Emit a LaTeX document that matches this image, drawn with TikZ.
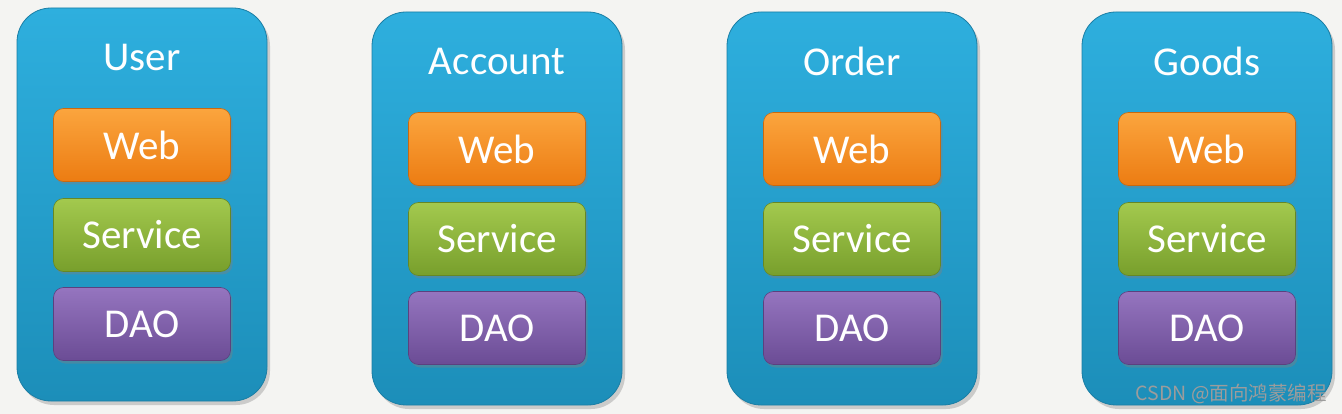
\documentclass[tikz,border=0pt]{standalone}
\usepackage{fontspec}
\setmainfont{Carlito}
\newfontfamily\cjkfont{Noto Sans CJK SC}
\usetikzlibrary{shadows}
\definecolor{bg}{HTML}{F4F4F2}
\definecolor{bluetop}{HTML}{2EAFDE}
\definecolor{bluebot}{HTML}{1C8EB9}
\definecolor{blueedge}{HTML}{1A7EA5}
\definecolor{ortop}{HTML}{FBA53E}
\definecolor{orbot}{HTML}{EC7C12}
\definecolor{grtop}{HTML}{A3C94E}
\definecolor{grbot}{HTML}{789F2C}
\definecolor{putop}{HTML}{9575BF}
\definecolor{pubot}{HTML}{6B4C95}
\definecolor{wm}{HTML}{9C9C9C}
\tikzset{
  outerbox/.style={rounded corners=34pt, minimum width=250pt, minimum height=393pt,
    top color=bluetop, bottom color=bluebot, draw=blueedge, line width=0.8pt,
    drop shadow={opacity=0.35, shadow xshift=3pt, shadow yshift=-4pt}},
  layerbox/.style={rounded corners=10pt, minimum width=177pt, minimum height=73pt,
    line width=0.6pt, text=white, font=\fontsize{41}{45}\selectfont,
    drop shadow={opacity=0.4, shadow xshift=2pt, shadow yshift=-3pt}},
  webbox/.style={layerbox, top color=ortop, bottom color=orbot, draw=orbot!85!black},
  servbox/.style={layerbox, top color=grtop, bottom color=grbot, draw=grbot!85!black},
  daobox/.style={layerbox, top color=putop, bottom color=pubot, draw=pubot!85!black},
  titletext/.style={text=white, font=\fontsize{41}{45}\selectfont, inner sep=0pt},
}
\begin{document}
\begin{tikzpicture}[x=1pt, y=-1pt]
\fill[bg] (0,0) rectangle (1342,414);
\useasboundingbox (0,0) rectangle (1342,414);
\foreach \n/\cx/\t/\ttl in {user/142/8/User, account/497/12/Account, order/852/12/Order, goods/1207/12/Goods}{
  \node[outerbox] (\n) at ({\cx},{\t+196.5}) {};
  \node[titletext] (\n-title) at ({\cx},{\t+49}) {\ttl};
  \node[webbox] (\n-web) at ({\cx},{\t+137}) {Web};
  \node[servbox] (\n-service) at ({\cx},{\t+227}) {Service};
  \node[daobox] (\n-dao) at ({\cx},{\t+316}) {DAO};
}
\node[text=wm, font=\cjkfont\fontsize{19.5}{22}\selectfont, anchor=east, inner sep=0pt] (wmark) at (1327,394) {CSDN @面向鸿蒙编程};
\end{tikzpicture}
\end{document}
